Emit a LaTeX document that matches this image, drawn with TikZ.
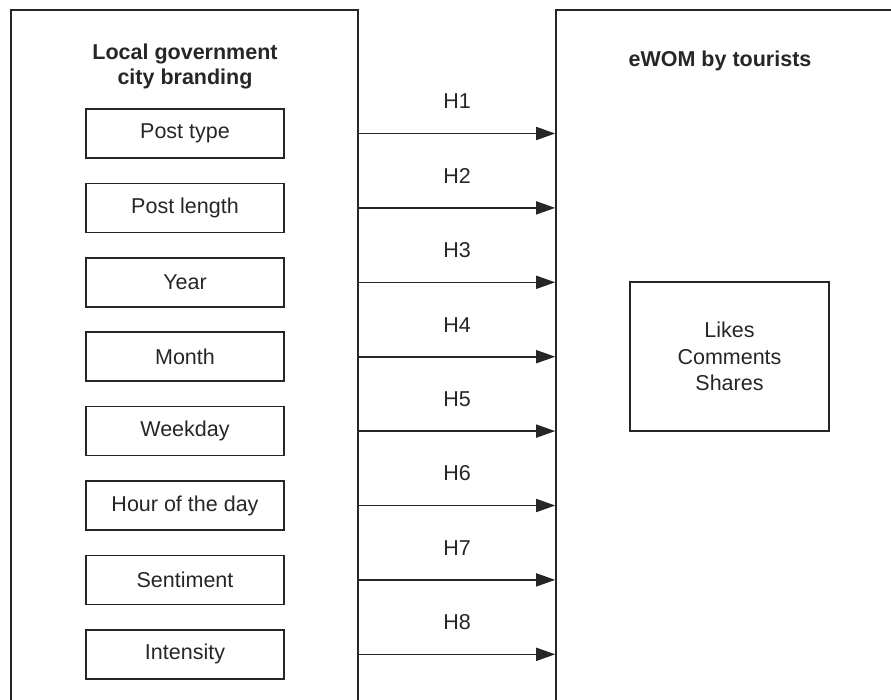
\documentclass[tikz,border=0pt]{standalone}
\usepackage{fontspec}
\setmainfont{Liberation Sans}
\usetikzlibrary{arrows.meta}
\tikzset{
  frame/.style={draw=black!85, line width=1.6pt, inner sep=0pt},
  factor/.style={frame, minimum width=198pt, minimum height=49pt},
  hyp/.style={-{Triangle[length=19pt,width=13pt]}, draw=black!85, line width=1.6pt},
  heading/.style={font=\fontsize{21.5}{25}\selectfont\bfseries, align=center}
}
\begin{document}
\begin{tikzpicture}[x=1pt,y=-1pt,font=\fontsize{21.5}{26.5}\selectfont,text=black!85]
  \useasboundingbox (0,0) rectangle (891,699);
  \clip (0,0) rectangle (891,699);
  % the two blocks run off the page
  \node[frame, minimum width=347pt, minimum height=760pt] (brand) at (184.5,390) {};
  \node[frame, minimum width=400pt, minimum height=760pt] (ewom) at (756,390) {};
  \node[heading] (brandtitle) at (185,66.5) {Local government\\city branding};
  \node[heading] (ewomtitle) at (720,61) {eWOM by tourists};
  \node[frame, minimum width=199pt, minimum height=149pt, align=center]
    (metrics) at (729.5,356.5) {Likes\\Comments\\Shares};
  \foreach \name/\txt [count=\i] in {ptype/Post type, plength/Post length,
      year/Year, month/Month, weekday/Weekday, hour/Hour of the day,
      senti/Sentiment, inten/Intensity}{
    \node[factor] (\name) at (185,{133.5+74.4*(\i-1)}) {\txt};
    \draw[hyp] (\name.east -| brand.east) -- (\name.east -| ewom.west)
      node[midway, yshift=32pt] (h\i) {H\i};
  }
\end{tikzpicture}
\end{document}
